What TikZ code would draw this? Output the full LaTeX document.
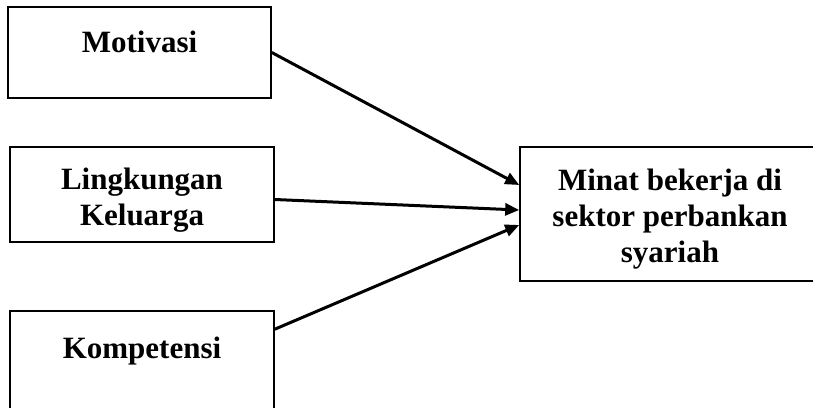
\documentclass[tikz,border=0pt]{standalone}
\usepackage{fontspec}
\setmainfont{Liberation Serif}
\usetikzlibrary{positioning,arrows.meta}

\begin{document}
\begin{tikzpicture}[x=1pt,y=1pt,>={Triangle[length=14pt,width=12pt]},
  box/.style={draw,line width=1.6pt,inner sep=0pt,align=center,anchor=base,
    font=\fontsize{31}{36}\selectfont\bfseries}]
\clip (0,0) rectangle (813,-407);
\node[box,minimum width=263pt,text height=45pt,text depth=46pt] (mot) at (139.5,-52) {Motivasi};
\node[box,minimum width=264pt,text height=78pt,text depth=17pt] (lk) at (142,-225) {Lingkungan\\Keluarga};
\node[box,minimum width=264pt,text height=47pt,text depth=62pt] (kom) at (142,-358) {Kompetensi};
\node[box,minimum width=300pt,text height=115pt,text depth=19pt] (minat) at (670,-262) {Minat bekerja di\\sektor perbankan\\syariah};
\draw[->,line width=3pt] (mot.east) -- ([yshift=29pt]minat.west);
\draw[->,line width=3pt] ([yshift=-5pt]lk.east) -- ([yshift=4pt]minat.west);
\draw[->,line width=3pt] ([yshift=-19pt]kom.north east) -- ([yshift=-11pt]minat.west);
\end{tikzpicture}
\end{document}
